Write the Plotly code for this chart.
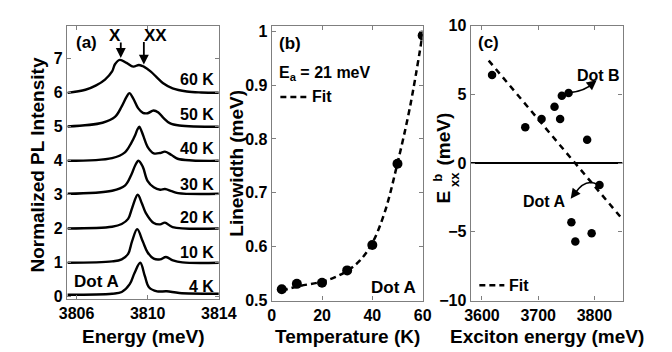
import plotly.graph_objects as go

W, H = 672, 352

# ---------------- Panel (a): PL spectra (energy meV, normalized intensity + offset)
E_60 = [3805.5, 3806.5, 3807.1, 3807.6, 3808.0, 3808.16, 3808.43, 3808.81, 3809.19, 3809.51, 3809.78, 3810.16, 3810.54, 3810.87, 3811.4, 3812.2, 3813.0, 3814.0]
I_60 = [6.0, 6.09, 6.22, 6.39, 6.63, 6.84, 6.97, 6.88, 6.77, 6.82, 6.77, 6.63, 6.44, 6.28, 6.13, 6.04, 6.01, 6.0]
E_50 = [3805.5, 3807.46, 3808.16, 3808.54, 3808.81, 3808.97, 3809.19, 3809.46, 3809.73, 3810.0, 3810.33, 3810.6, 3810.87, 3811.24, 3811.78, 3814.0]
I_50 = [5.01, 5.12, 5.29, 5.6, 5.88, 5.99, 5.83, 5.55, 5.41, 5.40, 5.48, 5.42, 5.27, 5.11, 5.04, 5.0]
E_40 = [3805.5, 3808.0, 3808.72, 3809.08, 3809.3, 3809.42, 3809.53, 3809.65, 3809.77, 3810.02, 3810.34, 3810.7, 3810.97, 3811.34, 3811.68, 3812.5, 3814.0]
I_40 = [4.0, 4.08, 4.25, 4.53, 4.76, 4.92, 5.0, 4.88, 4.71, 4.39, 4.22, 4.23, 4.27, 4.17, 4.06, 4.01, 4.0]
E_30 = [3805.5, 3808.0, 3808.72, 3809.08, 3809.3, 3809.48, 3809.72, 3809.99, 3810.34, 3810.7, 3810.97, 3811.34, 3811.7, 3814.0]
I_30 = [3.03, 3.12, 3.27, 3.59, 3.87, 4.0, 3.83, 3.41, 3.22, 3.15, 3.17, 3.11, 3.05, 3.03]
E_20 = [3805.5, 3808.0, 3808.54, 3808.9, 3809.13, 3809.44, 3809.67, 3809.89, 3810.34, 3810.7, 3810.97, 3811.4, 3814.0]
I_20 = [2.01, 2.06, 2.14, 2.29, 2.62, 3.0, 2.75, 2.47, 2.17, 2.13, 2.18, 2.05, 2.01]
E_10 = [3805.5, 3808.0, 3808.54, 3808.9, 3809.12, 3809.41, 3809.72, 3809.99, 3810.34, 3810.7, 3811.03, 3811.42, 3811.95, 3814.0]
I_10 = [1.0, 1.04, 1.1, 1.26, 1.63, 1.99, 1.63, 1.31, 1.12, 1.10, 1.17, 1.07, 1.01, 1.0]
E_4 = [3805.5, 3808.0, 3808.54, 3808.99, 3809.26, 3809.58, 3809.84, 3810.07, 3810.53, 3811.07, 3811.78, 3814.0]
I_4 = [0.06, 0.09, 0.14, 0.37, 0.7, 1.0, 0.61, 0.28, 0.16, 0.16, 0.11, 0.09]
spectra = [(E_60, I_60), (E_50, I_50), (E_40, I_40), (E_30, I_30), (E_20, I_20), (E_10, I_10), (E_4, I_4)]
temp_labels = ["60 K", "50 K", "40 K", "30 K", "20 K", "10 K", "4 K"]
a_xticks = [3806, 3810, 3814]
a_yticks = [0, 1, 2, 3, 4, 5, 6, 7]

# ---------------- Panel (b): linewidth vs temperature
T_data = [4, 10, 20, 30, 40, 50, 60]
LW_data = [0.521, 0.531, 0.533, 0.556, 0.603, 0.754, 0.992]
T_fit = [4, 10, 20, 25, 30, 35, 40, 45, 50, 55, 60]
LW_fit = [0.518, 0.526, 0.535, 0.543, 0.555, 0.574, 0.607, 0.665, 0.755, 0.86, 0.995]
b_xticks = [0, 20, 40, 60]
b_yticks = [0.5, 0.6, 0.7, 0.8, 0.9, 1.0]
b_yticklabels = ["0.5", "0.6", "0.7", "0.8", "0.9", "1"]

# ---------------- Panel (c): biexciton binding energy vs exciton energy
X_energy = [3618, 3677, 3706, 3729, 3739, 3742, 3754, 3787, 3809, 3759, 3766, 3795]
Eb_xx = [6.4, 2.6, 3.2, 4.1, 3.2, 4.9, 5.1, 1.7, -1.6, -4.3, -5.7, -5.1]
fit_c_x = [3612, 3850]
fit_c_y = [7.45, -4.1]
c_xticks = [3600, 3700, 3800]
c_yticks = [-10, -5, 0, 5, 10]
c_yticklabels = ["\u221210", "\u22125", "0", "5", "10"]

FONT = "Liberation Sans, Arial, Helvetica, sans-serif"
FRAME = "#7f7f7f"

def px(x):
    return x / W

def py(y):
    return 1 - y / H

fig = go.Figure()

for (E, I) in spectra:
    fig.add_trace(go.Scatter(x=E, y=I, mode="lines", line=dict(color="black", width=2.4, shape="spline", smoothing=1.0),
                             xaxis="x", yaxis="y", showlegend=False, hoverinfo="skip"))

fig.add_trace(go.Scatter(x=T_fit, y=LW_fit, mode="lines", line=dict(color="black", width=2.5, dash="6px,4px", shape="spline"),
                         xaxis="x2", yaxis="y2", showlegend=False))
fig.add_trace(go.Scatter(x=T_data, y=LW_data, mode="markers", marker=dict(color="black", size=10),
                         xaxis="x2", yaxis="y2", showlegend=False))

fig.add_trace(go.Scatter(x=[3580, 3850], y=[0, 0], mode="lines", line=dict(color="black", width=2),
                         xaxis="x3", yaxis="y3", showlegend=False, hoverinfo="skip"))
fig.add_trace(go.Scatter(x=fit_c_x, y=fit_c_y, mode="lines", line=dict(color="black", width=2.5, dash="6px,5px"),
                         xaxis="x3", yaxis="y3", showlegend=False))
fig.add_trace(go.Scatter(x=X_energy, y=Eb_xx, mode="markers", marker=dict(color="black", size=8.5),
                         xaxis="x3", yaxis="y3", showlegend=False))

axis_common = dict(showline=True, linecolor=FRAME, linewidth=1.2, mirror="allticks", ticks="inside", ticklen=4,
                   tickcolor=FRAME, showgrid=False, zeroline=False,
                   tickfont=dict(family=FONT, size=16, color="black", weight="bold"))

yb = [py(297), py(10)]
yb2 = [py(299), py(10)]
fig.update_layout(
    width=W, height=H, margin=dict(l=0, r=0, t=0, b=0),
    paper_bgcolor="white", plot_bgcolor="white",
    font=dict(family=FONT, color="black", weight="bold"),
    xaxis=dict(domain=[px(53), px(211)], range=[3805.46, 3814], tickvals=a_xticks, anchor="y", **axis_common),
    yaxis=dict(domain=yb, range=[-0.056, 7.98], tickvals=a_yticks, anchor="x", **axis_common),
    xaxis2=dict(domain=[px(266), px(423)], range=[0, 60], tickvals=b_xticks, anchor="y2", **axis_common),
    yaxis2=dict(domain=yb2, range=[0.5, 1.0106], tickvals=b_yticks, ticktext=b_yticklabels, anchor="x2", **axis_common),
    xaxis3=dict(domain=[px(473), px(631)], range=[3580, 3850], tickvals=c_xticks, anchor="y3", **axis_common),
    yaxis3=dict(domain=yb2, range=[-10, 10], tickvals=c_yticks, ticktext=c_yticklabels, anchor="x3", **axis_common),
)

ann = []
def text(x, y, s, size=16, xanchor="center", angle=0):
    ann.append(dict(x=px(x), y=py(y), xref="paper", yref="paper", text=s, showarrow=False,
                    xanchor=xanchor, yanchor="middle", textangle=angle,
                    font=dict(family=FONT, size=size, color="black", weight="bold")))

def arrow(x0, y0, x1, y1):
    ann.append(dict(x=px(x1), y=py(y1), ax=x0 - x1, ay=y0 - y1, xref="paper", yref="paper",
                    text="", showarrow=True, arrowhead=2, arrowsize=1.1, arrowwidth=1.8, arrowcolor="black"))

# axis titles
text(22, 157, "Normalized PL Intensity", size=19, angle=-90)
text(132, 337, "Energy (meV)", size=19)
text(229, 155, "Linewidth (meV)", size=19, angle=-90)
text(345, 337, "Temperature (K)", size=19)
text(445, 129, "(meV)", size=19, angle=-90)
text(445, 190, "E", size=19, angle=-90)
text(439, 170, "b", size=13, angle=-90)
text(456, 172, "xx", size=13, angle=-90)
text(552, 337, "Exciton energy (meV)", size=19)

# panel (a)
text(60, 28, "(a)", size=17, xanchor="left")
text(103, 20, "X", size=17)
text(145, 20, "XX", size=17)
arrow(109, 27, 109, 44)
arrow(133, 27, 133, 51)
for lab, yy in zip(temp_labels, [67, 104, 139, 177, 212, 248, 284]):
    text(208, yy, lab, size=16, xanchor="right")
text(58, 279, "Dot A", size=17, xanchor="left")

# panel (b)
text(271, 29, "(b)", size=17, xanchor="left")
text(272, 60, "E<sub>a</sub> = 21 meV", size=16, xanchor="left")
text(306, 85, "Fit", size=16, xanchor="left")
text(418, 285, "Dot A", size=17, xanchor="right")

# panel (c)
text(479, 28, "(c)", size=17, xanchor="left")
text(581, 62, "Dot B", size=16, xanchor="left")
text(574, 195, "Dot A", size=16, xanchor="right")
text(511, 283, "Fit", size=16, xanchor="left")
arrow(599, 71.5, 604, 67.5)
arrow(583, 184, 577, 192)

fig.update_layout(annotations=ann)

shapes = [
    dict(type="line", xref="paper", yref="paper", x0=px(275), x1=px(302), y0=py(85), y1=py(85),
         line=dict(color="black", width=2.5, dash="6px,4px")),
    dict(type="line", xref="paper", yref="paper", x0=px(482), x1=px(508), y0=py(283), y1=py(283),
         line=dict(color="black", width=2.5, dash="6px,4px")),
    dict(type="path", xref="paper", yref="paper",
         path=f"M {px(576)} {py(80.5)} Q {px(592)} {py(79)} {px(601)} {py(70)}",
         line=dict(color="black", width=1.6)),
    dict(type="path", xref="paper", yref="paper",
         path=f"M {px(605)} {py(177)} Q {px(592)} {py(170)} {px(581)} {py(187)}",
         line=dict(color="black", width=1.6)),
]
fig.update_layout(shapes=shapes)

fig.write_html("out.html")
